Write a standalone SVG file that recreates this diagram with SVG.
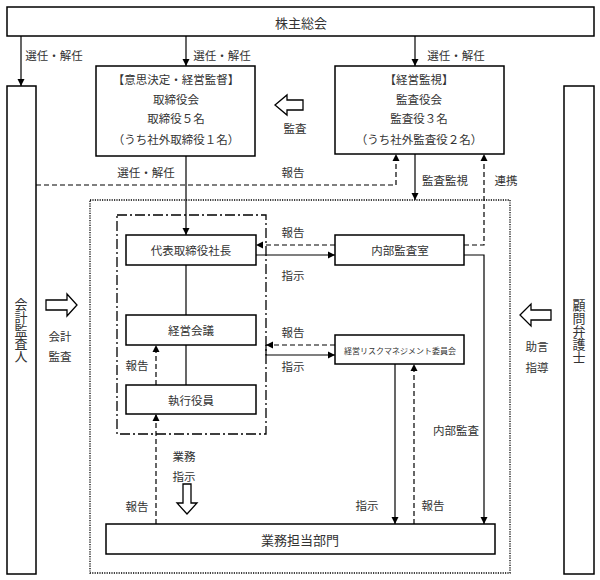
<svg xmlns="http://www.w3.org/2000/svg" width="600" height="580" viewBox="0 0 600 580">
<style>
text{font-family:"Noto Sans CJK JP","Noto Sans",sans-serif;fill:#333;font-size:11.5px;text-anchor:middle;dominant-baseline:central}
.vt{writing-mode:vertical-rl;font-size:13px}
.box{fill:#fff;stroke:#000;stroke-width:1.5}
.ln{fill:none;stroke:#000;stroke-width:1.2}
.dash{fill:none;stroke:#000;stroke-width:1.2;stroke-dasharray:5,3}
.hol{fill:#fff;stroke:#000;stroke-width:1.3}
</style>
<defs>
<marker id="ah" markerUnits="userSpaceOnUse" markerWidth="8" markerHeight="8" refX="7" refY="4" orient="auto">
<path d="M0,0.5 L7,4 L0,7.5 z" fill="#000"/>
</marker>
</defs>
<rect width="600" height="580" fill="#fff"/>

<g id="frames">
<rect x="90" y="200" width="420" height="373" fill="none" stroke="#000" stroke-width="1.3" stroke-dasharray="1.2,1.2"/>
<rect x="117" y="215" width="149" height="219" fill="none" stroke="#000" stroke-width="1.3" stroke-dasharray="10,3,2,3"/>
</g>

<g id="connectors">
<line class="ln" x1="21" y1="36" x2="21" y2="86" marker-end="url(#ah)"/>
<line class="ln" x1="186" y1="36" x2="186" y2="66" marker-end="url(#ah)"/>
<line class="ln" x1="415" y1="36" x2="415" y2="66" marker-end="url(#ah)"/>
<polyline class="dash" points="36,185 396,185 396,154" marker-end="url(#ah)"/>
<line class="ln" x1="186" y1="156" x2="186" y2="235" marker-end="url(#ah)"/>
<line class="ln" x1="415" y1="154" x2="415" y2="200" marker-end="url(#ah)"/>
<polyline class="dash" points="464,245 484,245 484,154" marker-end="url(#ah)"/>
<line class="dash" x1="335" y1="245" x2="256" y2="245" marker-end="url(#ah)"/>
<line class="ln" x1="256" y1="255" x2="335" y2="255" marker-end="url(#ah)"/>
<line class="ln" x1="186" y1="265" x2="186" y2="315"/>
<line class="ln" x1="186" y1="345" x2="186" y2="385"/>
<line class="dash" x1="156" y1="385" x2="156" y2="345" marker-end="url(#ah)"/>
<line class="dash" x1="156" y1="524" x2="156" y2="414" marker-end="url(#ah)"/>
<line class="dash" x1="335" y1="345" x2="266" y2="345" marker-end="url(#ah)"/>
<polyline class="ln" points="266,345 266,355 335,355" marker-end="url(#ah)"/>
<line class="ln" x1="395" y1="364" x2="395" y2="524" marker-end="url(#ah)"/>
<line class="dash" x1="414" y1="524" x2="414" y2="364" marker-end="url(#ah)"/>
<polyline class="ln" points="464,255 484,255 484,524" marker-end="url(#ah)"/>
<polygon class="hol" points="275,105 287,95 287,100 303,100 303,110 287,110 287,115"/>
<polygon class="hol" points="46,300 67,300 67,294 77,305 67,316 67,310 46,310"/>
<polygon class="hol" points="520,315 531,304 531,310 551,310 551,320 531,320 531,326"/>
<polygon class="hol" points="183,484 191,484 191,503 197,503 187,514 177,503 183,503"/>
</g>

<g id="labels">
<text x="54" y="55">選任・解任</text>
<text x="222" y="55">選任・解任</text>
<text x="456" y="55">選任・解任</text>
<text x="295" y="128">監査</text>
<text x="146" y="172">選任・解任</text>
<text x="293" y="172">報告</text>
<text x="445" y="180">監査監視</text>
<text x="506" y="180">連携</text>
<text x="293" y="232">報告</text>
<text x="293" y="275">指示</text>
<text x="293" y="332">報告</text>
<text x="293" y="366">指示</text>
<text x="137" y="365">報告</text>
<text x="60" y="336">会計</text>
<text x="60" y="356">監査</text>
<text x="537" y="346">助言</text>
<text x="537" y="367">指導</text>
<text x="456" y="430">内部監査</text>
<text x="184" y="456">業務</text>
<text x="184" y="476">指示</text>
<text x="137" y="506">報告</text>
<text x="367" y="505">指示</text>
<text x="433" y="505">報告</text>
</g>

<g id="n-soukai">
<rect class="box" x="7" y="7" width="587" height="29"/>
<text x="301" y="22" style="font-size:13px">株主総会</text>
</g>
<g id="n-kaikei">
<rect class="box" x="7" y="86" width="29" height="488"/>
<text class="vt" x="21" y="330">会計監査人</text>
</g>
<g id="n-komon">
<rect class="box" x="564" y="86" width="30" height="488"/>
<text class="vt" x="579" y="331">顧問弁護士</text>
</g>
<g id="n-torishimariyakukai">
<rect class="box" x="96" y="66" width="159" height="90"/>
<text x="176" y="79">【意思決定・経営監督】</text>
<text x="176" y="99">取締役会</text>
<text x="176" y="118">取締役５名</text>
<text x="176" y="139">（うち社外取締役１名）</text>
</g>
<g id="n-kansayakukai">
<rect class="box" x="335" y="66" width="169" height="88"/>
<text x="419" y="79">【経営監視】</text>
<text x="419" y="99">監査役会</text>
<text x="419" y="118">監査役３名</text>
<text x="419" y="139">（うち社外監査役２名）</text>
</g>
<g id="n-shacho">
<rect class="box" x="126" y="235" width="130" height="30"/>
<text x="191" y="250">代表取締役社長</text>
</g>
<g id="n-keieikaigi">
<rect class="box" x="126" y="315" width="130" height="30"/>
<text x="191" y="330">経営会議</text>
</g>
<g id="n-shikkou">
<rect class="box" x="126" y="385" width="130" height="29"/>
<text x="191" y="400">執行役員</text>
</g>
<g id="n-naibu">
<rect class="box" x="335" y="235" width="129" height="30"/>
<text x="400" y="250">内部監査室</text>
</g>
<g id="n-risk">
<rect class="box" x="335" y="335" width="129" height="29"/>
<text x="400" y="350" style="font-size:8px">経営リスクマネジメント委員会</text>
</g>
<g id="n-gyomu">
<rect class="box" x="106" y="524" width="389" height="30"/>
<text x="300" y="539" style="font-size:13px">業務担当部門</text>
</g>
</svg>
